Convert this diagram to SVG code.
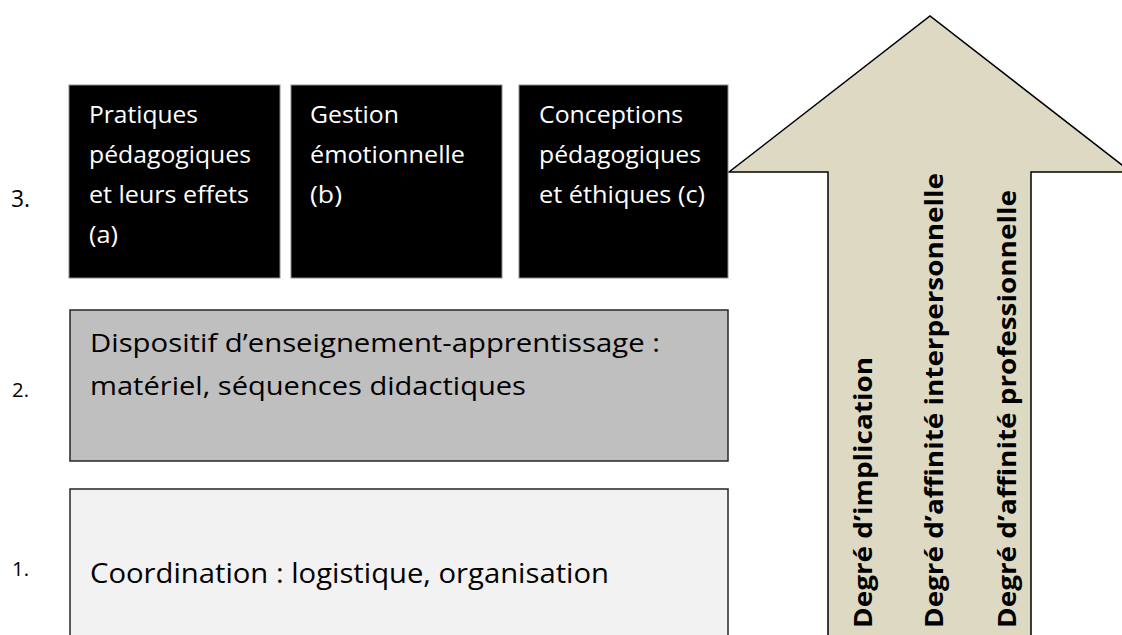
<svg xmlns="http://www.w3.org/2000/svg" width="1122" height="635" viewBox="0 0 1122 635">
<style>
text{font-family:"Open Sans","Liberation Sans",sans-serif}
.num{fill:#000}
.wt{font-size:24px;fill:#fff}
.bt{font-size:25px;fill:#000}
.vt{font-size:25px;font-weight:bold;fill:#000}
.blk{fill:#000;stroke:#8c8c8c;stroke-width:1}
</style>
<rect width="1122" height="635" fill="#fff"/>
<g id="arrow">
<path d="M828,640 L828,172 L729,172 L930,16 L1131,172 L1031,172 L1031,640 Z" fill="#ddd9c3" stroke="#000" stroke-width="1.5"/>
<text class="vt" transform="translate(872,628) rotate(-90)" textLength="271" lengthAdjust="spacingAndGlyphs">Degré d’implication</text>
<text class="vt" transform="translate(943,628) rotate(-90)" textLength="455" lengthAdjust="spacingAndGlyphs">Degré d’affinité interpersonnelle</text>
<text class="vt" transform="translate(1016,628) rotate(-90)" textLength="438" lengthAdjust="spacingAndGlyphs">Degré d’affinité professionnelle</text>
</g>
<g id="level3">
<text class="num" x="11" y="207" font-size="23" textLength="19" lengthAdjust="spacingAndGlyphs">3.</text>
</g>
<g id="node-a">
<rect class="blk" x="69" y="85" width="211" height="193"/>
<text class="wt" x="89" y="123" textLength="109" lengthAdjust="spacingAndGlyphs">Pratiques</text>
<text class="wt" x="89" y="163" textLength="162" lengthAdjust="spacingAndGlyphs">pédagogiques</text>
<text class="wt" x="89" y="203" textLength="160" lengthAdjust="spacingAndGlyphs">et leurs effets</text>
<text class="wt" x="89" y="243" textLength="29" lengthAdjust="spacingAndGlyphs">(a)</text>
</g>
<g id="node-b">
<rect class="blk" x="291" y="85" width="211" height="193"/>
<text class="wt" x="310" y="123" textLength="89" lengthAdjust="spacingAndGlyphs">Gestion</text>
<text class="wt" x="310" y="163" textLength="155" lengthAdjust="spacingAndGlyphs">émotionnelle</text>
<text class="wt" x="310" y="203" textLength="32" lengthAdjust="spacingAndGlyphs">(b)</text>
</g>
<g id="node-c">
<rect class="blk" x="519" y="85" width="209" height="193"/>
<text class="wt" x="539" y="123" textLength="144" lengthAdjust="spacingAndGlyphs">Conceptions</text>
<text class="wt" x="539" y="163" textLength="162" lengthAdjust="spacingAndGlyphs">pédagogiques</text>
<text class="wt" x="539" y="203" textLength="166" lengthAdjust="spacingAndGlyphs">et éthiques (c)</text>
</g>
<g id="node-2">
<text class="num" x="12" y="397" font-size="20" textLength="17" lengthAdjust="spacingAndGlyphs">2.</text>
<rect x="70" y="310" width="658" height="151" fill="#bfbfbf" stroke="#262626" stroke-width="1.5"/>
<text class="bt" x="90" y="352" textLength="570" lengthAdjust="spacingAndGlyphs">Dispositif d’enseignement-apprentissage :</text>
<text class="bt" x="90" y="395" textLength="436" lengthAdjust="spacingAndGlyphs">matériel, séquences didactiques</text>
</g>
<g id="node-1">
<text class="num" x="12" y="576" font-size="20" textLength="17" lengthAdjust="spacingAndGlyphs">1.</text>
<rect x="70" y="489" width="658" height="160" fill="#f2f2f2" stroke="#262626" stroke-width="1.5"/>
<text x="90" y="583" font-size="28" fill="#000" textLength="519" lengthAdjust="spacingAndGlyphs">Coordination : logistique, organisation</text>
</g>
<g id="connectors"></g>
</svg>
